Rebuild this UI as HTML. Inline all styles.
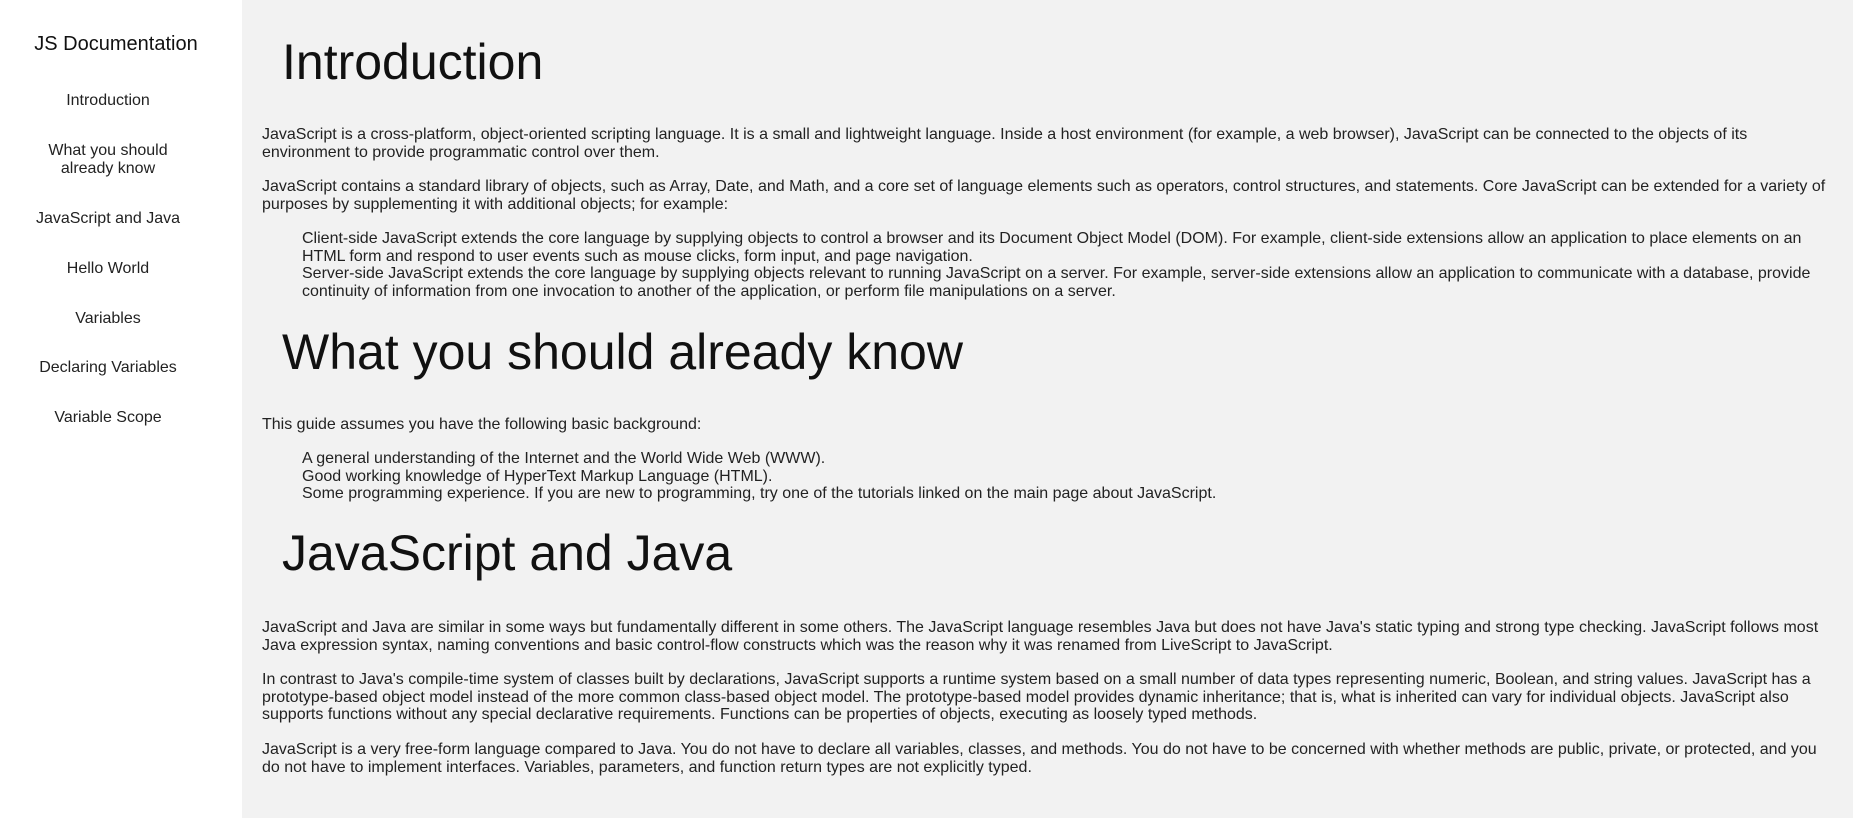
<!DOCTYPE html>
<html><head><meta charset="utf-8"><style>
body{margin:0;width:1853px;height:818px;overflow:hidden;background:#f2f2f2;font-family:"Liberation Sans",Arial,sans-serif;position:relative}
#nav{position:absolute;left:0;top:0;width:242px;height:818px;background:#fff}
.n{position:absolute;left:0;width:216px;text-align:center;font-size:16px;line-height:18px;color:#222}
.t{position:absolute;left:8px;width:216px;text-align:center;font-size:20px;line-height:24px;color:#111}
.h{position:absolute;left:282px;font-size:50px;line-height:60px;color:#111;white-space:nowrap}
.p{position:absolute;left:262px;font-size:16px;line-height:17.7px;color:#222;white-space:nowrap}
.i{left:302px}
</style></head><body>
<nav id="nav">
<div class="t" style="top:32px">JS Documentation</div>
<div class="n" style="top:92px">Introduction</div>
<div class="n" style="top:142px">What you should<br>already know</div>
<div class="n" style="top:210px">JavaScript and Java</div>
<div class="n" style="top:260px">Hello World</div>
<div class="n" style="top:310px">Variables</div>
<div class="n" style="top:359px">Declaring Variables</div>
<div class="n" style="top:409px">Variable Scope</div>
</nav>
<main>
<div class="h" style="top:32px">Introduction</div>
<div class="p" style="top:126px">JavaScript is a cross-platform, object-oriented scripting language. It is a small and lightweight language. Inside a host environment (for example, a web browser), JavaScript can be connected to the objects of its<br>environment to provide programmatic control over them.</div>
<div class="p" style="top:178px">JavaScript contains a standard library of objects, such as Array, Date, and Math, and a core set of language elements such as operators, control structures, and statements. Core JavaScript can be extended for a variety of<br>purposes by supplementing it with additional objects; for example:</div>
<div class="p i" style="top:230px">Client-side JavaScript extends the core language by supplying objects to control a browser and its Document Object Model (DOM). For example, client-side extensions allow an application to place elements on an<br>HTML form and respond to user events such as mouse clicks, form input, and page navigation.<br>Server-side JavaScript extends the core language by supplying objects relevant to running JavaScript on a server. For example, server-side extensions allow an application to communicate with a database, provide<br>continuity of information from one invocation to another of the application, or perform file manipulations on a server.</div>
<div class="h" style="top:322px">What you should already know</div>
<div class="p" style="top:416px">This guide assumes you have the following basic background:</div>
<div class="p i" style="top:450px">A general understanding of the Internet and the World Wide Web (WWW).<br>Good working knowledge of HyperText Markup Language (HTML).<br>Some programming experience. If you are new to programming, try one of the tutorials linked on the main page about JavaScript.</div>
<div class="h" style="top:523px">JavaScript and Java</div>
<div class="p" style="top:619px">JavaScript and Java are similar in some ways but fundamentally different in some others. The JavaScript language resembles Java but does not have Java's static typing and strong type checking. JavaScript follows most<br>Java expression syntax, naming conventions and basic control-flow constructs which was the reason why it was renamed from LiveScript to JavaScript.</div>
<div class="p" style="top:671px">In contrast to Java's compile-time system of classes built by declarations, JavaScript supports a runtime system based on a small number of data types representing numeric, Boolean, and string values. JavaScript has a<br>prototype-based object model instead of the more common class-based object model. The prototype-based model provides dynamic inheritance; that is, what is inherited can vary for individual objects. JavaScript also<br>supports functions without any special declarative requirements. Functions can be properties of objects, executing as loosely typed methods.</div>
<div class="p" style="top:741px">JavaScript is a very free-form language compared to Java. You do not have to declare all variables, classes, and methods. You do not have to be concerned with whether methods are public, private, or protected, and you<br>do not have to implement interfaces. Variables, parameters, and function return types are not explicitly typed.</div>
</main>
</body></html>
